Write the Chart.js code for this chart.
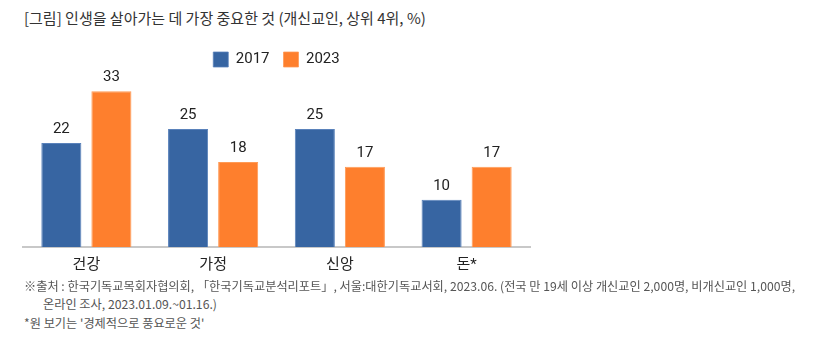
<!DOCTYPE html>
<html><head><meta charset="utf-8">
<script src="https://cdn.jsdelivr.net/npm/chart.js@4"></script>
<style>
html,body{margin:0;padding:0;background:#fff;width:826px;height:353px;overflow:hidden;font-family:"Noto Sans CJK KR","Noto Sans",sans-serif;}
#title{position:absolute;left:24px;top:7px;font-size:15px;color:#333;white-space:nowrap;font-weight:400;}
#wrap{position:absolute;left:0;top:38px;width:545px;height:245px;}
.foot{position:absolute;left:24px;font-size:12.2px;color:#555;white-space:nowrap;}
</style></head><body>
<div id="title">[그림] 인생을 살아가는 데 가장 중요한 것 (개신교인, 상위 4위, %)</div>
<div id="wrap"><canvas id="c"></canvas></div>
<div class="foot" style="top:277px">※출처 : 한국기독교목회자협의회, 「한국기독교분석리포트」, 서울:대한기독교서회, 2023.06. (전국 만 19세 이상 개신교인 2,000명, 비개신교인 1,000명,</div>
<div class="foot" style="top:295px;left:43px">온라인 조사, 2023.01.09.~01.16.)</div>
<div class="foot" style="top:314px">*원 보기는 '경제적으로 풍요로운 것'</div>
<script>
const categories = ["건강", "가정", "신앙", "돈*"];
const seriesNames = ["2017", "2023"];
const values2017 = [22, 25, 25, 10];
const values2023 = [33, 18, 17, 17];

const FONT = 'Roboto, "Noto Sans CJK KR", "Noto Sans", sans-serif';

const valueLabels = {
  id: 'valueLabels',
  afterDatasetsDraw(chart) {
    const ctx = chart.ctx;
    ctx.save();
    ctx.font = '15px ' + FONT;
    ctx.fillStyle = '#222';
    ctx.textAlign = 'center';
    ctx.textBaseline = 'bottom';
    chart.data.datasets.forEach((ds, i) => {
      chart.getDatasetMeta(i).data.forEach((el, j) => {
        ctx.fillText(String(ds.data[j]), el.x, el.y - 6);
      });
    });
    ctx.restore();
  }
};

new Chart(document.getElementById('c'), {
  type: 'bar',
  data: {
    labels: categories,
    datasets: [
      { label: seriesNames[0], data: values2017, backgroundColor: '#3765A2', borderColor: '#5a82bb', borderWidth: {top:1,left:1,right:1,bottom:0}, categoryPercentage: 0.79, barPercentage: 0.8 },
      { label: seriesNames[1], data: values2023, backgroundColor: '#FE7F2D', borderColor: '#ff9a55', borderWidth: {top:1,left:1,right:1,bottom:0}, categoryPercentage: 0.79, barPercentage: 0.8 }
    ]
  },
  options: {
    responsive: true,
    maintainAspectRatio: false,
    animation: false,
    layout: { padding: { left: 23, right: 15, top: 0, bottom: 0 } },
    plugins: {
      legend: {
        position: 'top',
        labels: { boxWidth: 15, boxHeight: 15, font: { size: 15, family: FONT }, color: '#222', padding: 14 }
      },
      tooltip: { enabled: false }
    },
    scales: {
      x: {
        grid: { display: false, drawTicks: false },
        border: { color: '#c8c8c8', width: 2 },
        ticks: { font: { size: 15, family: FONT, weight: '400' }, color: '#222', padding: 9 }
      },
      y: { display: false, min: 0, max: 36 }
    }
  },
  plugins: [valueLabels]
});
</script>
</body></html>
